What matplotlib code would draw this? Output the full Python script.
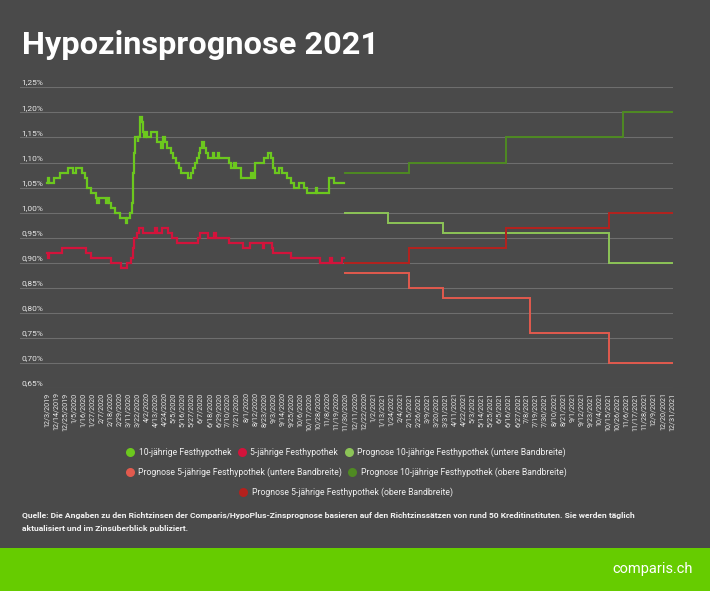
import matplotlib
matplotlib.use('Agg')
import matplotlib.pyplot as plt
import pandas as pd
from matplotlib.lines import Line2D
from matplotlib.patches import Rectangle

plt.rcParams['font.family'] = ['Roboto', 'DejaVu Sans']

# ---------------- data ----------------
START = pd.Timestamp('2019-12-03')
END = pd.Timestamp('2021-12-31')
TICK_STEP_DAYS = 11

# historical series: change points (days since 12/3/2019) and rate in %
HIST_END_DAY = 361
HIST10_DAYS = [0, 1, 2, 8, 16, 26, 32, 35, 43, 46, 48, 53, 59, 61, 63, 72, 74, 75, 78, 82,
               89, 96, 97, 101, 103, 104, 105, 106, 107, 110, 111, 113, 115, 117, 118, 120,
               121, 126, 133, 139, 141, 143, 146, 150, 153, 157, 160, 163, 171, 175, 177,
               180, 182, 184, 186, 188, 191, 193, 196, 202, 203, 208, 209, 221, 224, 227,
               229, 236, 248, 250, 253, 263, 268, 272, 274, 277, 282, 285, 291, 296, 300,
               306, 312, 316, 327, 328, 343, 348]
HIST10_VALS = [1.06, 1.07, 1.06, 1.07, 1.08, 1.09, 1.08, 1.09, 1.08, 1.07, 1.05, 1.04, 1.03,
               1.02, 1.03, 1.02, 1.03, 1.02, 1.01, 1.00, 0.99, 0.98, 0.99, 1.00, 1.02, 1.05,
               1.08, 1.12, 1.15, 1.14, 1.15, 1.19, 1.18, 1.16, 1.15, 1.16, 1.15, 1.16, 1.14,
               1.13, 1.15, 1.14, 1.13, 1.12, 1.11, 1.10, 1.09, 1.08, 1.07, 1.08, 1.09, 1.10,
               1.11, 1.12, 1.13, 1.14, 1.13, 1.12, 1.11, 1.12, 1.11, 1.12, 1.11, 1.10, 1.09,
               1.10, 1.09, 1.07, 1.08, 1.07, 1.10, 1.11, 1.12, 1.11, 1.09, 1.08, 1.09, 1.08,
               1.07, 1.06, 1.05, 1.06, 1.05, 1.04, 1.05, 1.04, 1.07, 1.06]

HIST5_DAYS = [0, 1, 3, 18, 47, 54, 78, 90, 97, 102, 104, 106, 109, 112, 116, 131, 133, 140,
              147, 152, 158, 183, 186, 195, 203, 205, 221, 238, 246, 262, 264, 273, 275,
              296, 332, 344, 346, 358]
HIST5_VALS = [0.92, 0.91, 0.92, 0.93, 0.92, 0.91, 0.90, 0.89, 0.90, 0.91, 0.93, 0.95, 0.96,
              0.97, 0.96, 0.97, 0.96, 0.97, 0.96, 0.95, 0.94, 0.95, 0.96, 0.95, 0.96, 0.95,
              0.94, 0.93, 0.94, 0.93, 0.94, 0.93, 0.92, 0.91, 0.90, 0.91, 0.90, 0.91]

# forecasts: step dates and rate in %
P10_LOW_DATES = ['2020-11-29', '2021-01-20', '2021-03-28', '2021-10-16']
P10_LOW_VALS = [1.00, 0.98, 0.96, 0.90]
P5_LOW_DATES = ['2020-11-29', '2021-02-15', '2021-03-28', '2021-07-12', '2021-10-16']
P5_LOW_VALS = [0.88, 0.85, 0.83, 0.76, 0.70]
P10_HIGH_DATES = ['2020-11-29', '2021-02-15', '2021-06-13', '2021-11-01']
P10_HIGH_VALS = [1.08, 1.10, 1.15, 1.20]
P5_HIGH_DATES = ['2020-11-29', '2021-02-15', '2021-06-13', '2021-10-16']
P5_HIGH_VALS = [0.90, 0.93, 0.97, 1.00]

Y_TICKS = [0.65, 0.70, 0.75, 0.80, 0.85, 0.90, 0.95, 1.00, 1.05, 1.10, 1.15, 1.20, 1.25]

SERIES_NAMES = ['10-jährige Festhypothek', '5-jährige Festhypothek',
                'Prognose 10-jährige Festhypothek (untere Bandbreite)',
                'Prognose 5-jährige Festhypothek (untere Bandbreite)',
                'Prognose 10-jährige Festhypothek (obere Bandbreite)',
                'Prognose 5-jährige Festhypothek (obere Bandbreite)']
COLORS = ['#6CC81E', '#D3133B', '#8CC457', '#E25A4E', '#4F8A22', '#B4211D']

TITLE = 'Hypozinsprognose 2021'
NOTE1 = ('Quelle: Die Angaben zu den Richtzinsen der Comparis/HypoPlus-Zinsprognose basieren auf den '
         'Richtzinssätzen von rund 50 Kreditinstituten. Sie werden täglich')
NOTE2 = 'aktualisiert und im Zinsüberblick publiziert.'

# ---------------- figure ----------------
W, H = 710, 591
BG = '#4A4A4A'
fig = plt.figure(figsize=(W / 100, H / 100), dpi=100, facecolor=BG)

fig.patches.append(Rectangle((0, 0), 1, (H - 548) / H, transform=fig.transFigure,
                             facecolor='#66CC00', edgecolor='none', zorder=0))

ax = fig.add_axes([20 / W, (H - 388.3) / H, (672.5 - 20) / W, (388.3 - 87.3) / H])
ax.set_facecolor(BG)

end_day = (END - START).days


def to_day(d):
    return (pd.Timestamp(d) - START).days


def step(ax, days, vals, last_day, color, lw, label):
    xs = list(days) + [last_day]
    ys = list(vals) + [vals[-1]]
    ax.plot(xs, ys, drawstyle='steps-post', color=color, lw=lw, label=label,
            solid_joinstyle='miter', zorder=3)


step(ax, HIST10_DAYS, HIST10_VALS, HIST_END_DAY, COLORS[0], 1.6, SERIES_NAMES[0])
step(ax, HIST5_DAYS, HIST5_VALS, HIST_END_DAY, COLORS[1], 1.6, SERIES_NAMES[1])
for dates, vals, c, n in [(P10_LOW_DATES, P10_LOW_VALS, COLORS[2], SERIES_NAMES[2]),
                          (P5_LOW_DATES, P5_LOW_VALS, COLORS[3], SERIES_NAMES[3]),
                          (P10_HIGH_DATES, P10_HIGH_VALS, COLORS[4], SERIES_NAMES[4]),
                          (P5_HIGH_DATES, P5_HIGH_VALS, COLORS[5], SERIES_NAMES[5])]:
    step(ax, [to_day(d) for d in dates], vals, end_day, c, 1.4, n)

px_per_day = (672 - 47) / end_day
ax.set_xlim(-(47 - 20) / px_per_day, end_day + 0.5 / px_per_day)
ax.set_ylim(0.65, 1.25)

for s in ax.spines.values():
    s.set_visible(False)

ax.set_yticks(Y_TICKS)
ax.set_yticklabels([])
ax.tick_params(axis='both', length=0)
ax.grid(axis='y', color='#6E6E6E', lw=0.8, zorder=1)
ax.set_axisbelow(True)

for v in Y_TICKS:
    ax.annotate(f'{v:.2f}%'.replace('.', ','), xy=(0, v),
                xycoords=ax.get_yaxis_transform(), xytext=(1, 1.2),
                textcoords='offset points', ha='left', va='bottom',
                fontsize=6, color='#E8E8E8')

tick_dates = pd.date_range(START, END, freq=f'{TICK_STEP_DAYS}D')
ax.set_xticks([(d - START).days for d in tick_dates])
ax.set_xticklabels([f'{d.month}/{d.day}/{d.year}' for d in tick_dates],
                   rotation=90, fontsize=5.2, color='#E8E8E8', va='top', ha='center')
ax.tick_params(axis='x', pad=3)

# title
fig.text(22 / W, 1 - 45 / H, TITLE, fontsize=23.4, fontweight='bold', color='white',
         ha='left', va='center')

# legend rows
handles = [Line2D([], [], marker='o', ls='none', markersize=6.5, color=c,
                  markeredgewidth=0) for c in COLORS]
rows = [([0, 1, 2], 452.3), ([3, 4], 472.3), ([5], 492.3)]
for idx, yy in rows:
    fig.legend([handles[i] for i in idx], [SERIES_NAMES[i] for i in idx],
               loc='center', bbox_to_anchor=(346 / W, 1 - yy / H), ncol=len(idx),
               frameon=False, fontsize=6.2, labelcolor='#F0F0F0', handlelength=0.9,
               handletextpad=0.5, columnspacing=0.8, borderpad=0, borderaxespad=0)

# note
fig.text(22 / W, 1 - 515.7 / H, NOTE1, fontsize=6.1, fontweight='bold', color='#F2F2F2',
         ha='left', va='center')
fig.text(22 / W, 1 - 529 / H, NOTE2, fontsize=6.1, fontweight='bold', color='#F2F2F2',
         ha='left', va='center')

fig.text(693 / W, 1 - 569 / H, 'comparis.ch', fontsize=10.5, color='white',
         ha='right', va='center')

fig.savefig('out.png', dpi=100, facecolor=BG)
